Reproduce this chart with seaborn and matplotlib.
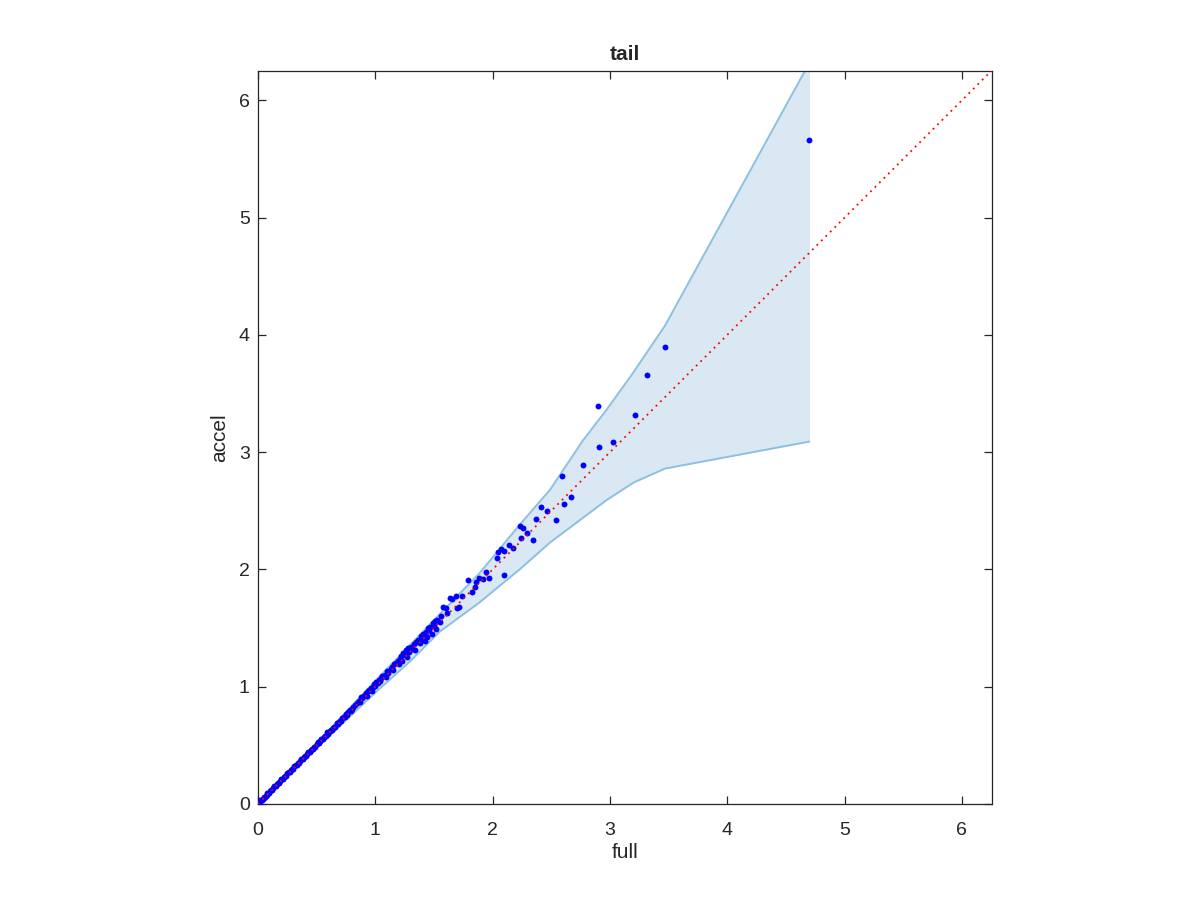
import numpy as np
import matplotlib
matplotlib.use('Agg')
import matplotlib.pyplot as plt
import seaborn as sns

# envelope (band)
env_x  = [0.00, 0.50, 1.00, 1.30, 1.55, 1.89, 2.23, 2.49, 2.77, 2.97, 3.20, 3.47, 4.70]
env_hi = [0.00, 0.52, 1.05, 1.36, 1.62, 1.97, 2.38, 2.68, 3.10, 3.36, 3.68, 4.08, 6.32]
env_lo = [0.00, 0.48, 0.95, 1.22, 1.47, 1.72, 2.00, 2.23, 2.44, 2.59, 2.74, 2.86, 3.09]

# scatter points: full (x) vs accel (y)
full = [0.00, 0.01, 0.02, 0.03, 0.04, 0.05, 0.06, 0.07, 0.08, 0.09,
        0.10, 0.12, 0.13, 0.15, 0.16, 0.18, 0.19, 0.21, 0.22, 0.24,
        0.25, 0.27, 0.28, 0.30, 0.31, 0.33, 0.35, 0.36, 0.38, 0.39,
        0.41, 0.42, 0.44, 0.45, 0.47, 0.49, 0.50, 0.52, 0.53, 0.55,
        0.56, 0.58, 0.60, 0.61, 0.63, 0.64, 0.66, 0.68, 0.69, 0.71,
        0.72, 0.74, 0.76, 0.77, 0.79, 0.80,
        0.02, 0.05, 0.08, 0.11, 0.14, 0.17, 0.20, 0.23, 0.26, 0.29,
        0.32, 0.34, 0.37, 0.40, 0.43, 0.46, 0.48, 0.51, 0.54, 0.57,
        0.59, 0.62, 0.65, 0.67, 0.70, 0.73, 0.75, 0.78,
        0.81, 0.83, 0.84, 0.86, 0.87, 0.88, 0.89, 0.90, 0.91, 0.92,
        0.93, 0.94, 0.95, 0.96, 0.97, 0.98, 0.99, 1.00, 1.01, 1.02,
        1.03, 1.04, 1.05, 1.06, 1.08, 1.09, 1.10, 1.11, 1.13, 1.14,
        1.15, 1.16, 1.18, 1.19, 1.20, 1.21, 1.22, 1.23, 1.24, 1.25,
        1.26, 1.27, 1.28, 1.29, 1.30, 1.31, 1.33, 1.34, 1.35, 1.36,
        1.38, 1.39, 1.40, 1.41, 1.42, 1.43, 1.44, 1.45, 1.46, 1.47,
        1.48, 1.49, 1.50, 1.51, 1.52, 1.53, 1.55, 1.56, 1.58, 1.60,
        1.61, 1.64, 1.65, 1.69, 1.70, 1.71, 1.74,
        1.79, 1.82, 1.85, 1.86, 1.88, 1.92, 1.94, 1.97, 2.04, 2.05,
        2.07, 2.10, 2.10, 2.14, 2.17, 2.23, 2.24, 2.26, 2.29, 2.34,
        2.37, 2.41, 2.46, 2.54, 2.59, 2.61, 2.67, 2.77, 2.90, 2.91,
        3.03, 3.21, 3.32, 3.47, 4.70]
accel = [0.00, 0.01, 0.02, 0.03, 0.04, 0.05, 0.06, 0.07, 0.08, 0.09,
         0.11, 0.12, 0.14, 0.15, 0.17, 0.18, 0.20, 0.21, 0.23, 0.24,
         0.26, 0.27, 0.29, 0.30, 0.32, 0.33, 0.35, 0.37, 0.38, 0.40,
         0.41, 0.43, 0.44, 0.46, 0.47, 0.49, 0.51, 0.52, 0.54, 0.55,
         0.57, 0.58, 0.60, 0.62, 0.63, 0.65, 0.66, 0.68, 0.70, 0.71,
         0.73, 0.74, 0.76, 0.78, 0.79, 0.81,
         0.03, 0.06, 0.09, 0.12, 0.15, 0.18, 0.21, 0.24, 0.27, 0.30,
         0.33, 0.35, 0.38, 0.41, 0.44, 0.47, 0.49, 0.53, 0.55, 0.58,
         0.61, 0.63, 0.66, 0.69, 0.71, 0.74, 0.77, 0.80,
         0.83, 0.84, 0.86, 0.88, 0.87, 0.91, 0.90, 0.92, 0.93, 0.95,
         0.92, 0.96, 0.97, 0.99, 0.96, 1.00, 1.02, 1.01, 1.04, 1.03,
         1.06, 1.05, 1.07, 1.09, 1.10, 1.08, 1.13, 1.12, 1.15, 1.17,
         1.14, 1.19, 1.20, 1.22, 1.19, 1.24, 1.26, 1.22, 1.29, 1.27,
         1.31, 1.25, 1.33, 1.30, 1.34, 1.32, 1.36, 1.31, 1.38, 1.40,
         1.37, 1.43, 1.41, 1.45, 1.39, 1.47, 1.42, 1.50, 1.48, 1.51,
         1.45, 1.54, 1.52, 1.56, 1.49, 1.57, 1.55, 1.60, 1.68, 1.67,
         1.63, 1.76, 1.75, 1.77, 1.67, 1.68, 1.77,
         1.91, 1.81, 1.85, 1.89, 1.93, 1.92, 1.98, 1.93, 2.10, 2.15,
         2.17, 2.16, 1.95, 2.21, 2.18, 2.37, 2.27, 2.35, 2.31, 2.25,
         2.43, 2.53, 2.50, 2.42, 2.80, 2.56, 2.62, 2.89, 3.39, 3.04,
         3.09, 3.32, 3.66, 3.90, 5.66]

diag = [0.0, 6.3]
ticks = [0, 1, 2, 3, 4, 5, 6]

sns.set_style('ticks')
plt.rcParams['font.family'] = ['Liberation Sans', 'DejaVu Sans']

fig = plt.figure(figsize=(12, 9), dpi=100)
ax = fig.add_axes([0.215, 0.1067, 0.612, 0.8144])

ax.fill_between(env_x, env_lo, env_hi, color='#d9e8f3', lw=0, zorder=1)
sns.lineplot(x=env_x, y=env_hi, ax=ax, color='#8cc0e0', lw=1.4, sort=False, zorder=2)
sns.lineplot(x=env_x, y=env_lo, ax=ax, color='#8cc0e0', lw=1.4, sort=False, zorder=2)
sns.scatterplot(x=full, y=accel, ax=ax, color='blue', s=18, linewidth=0, zorder=3)
ax.plot(diag, diag, color='red', ls=(0, (1, 2.5)), lw=1.3, zorder=4)

ax.set_xlim(0, 6.26)
ax.set_ylim(0, 6.25)
ax.set_xticks(ticks)
ax.set_yticks(ticks)
for s in ax.spines.values():
    s.set_visible(True)
    s.set_color('#262626')
    s.set_linewidth(0.9)
ax.tick_params(direction='in', top=True, right=True, length=6, width=0.9,
               labelsize=14, colors='#262626')
ax.tick_params(axis='x', pad=13)
ax.tick_params(axis='y', pad=6)
ax.set_xlabel('full', fontsize=15, color='#262626', labelpad=3)
ax.set_ylabel('accel', fontsize=15, color='#262626', labelpad=7)
ax.set_title('tail', fontsize=15, fontweight='bold', pad=8)

fig.savefig('out.png', dpi=100)
